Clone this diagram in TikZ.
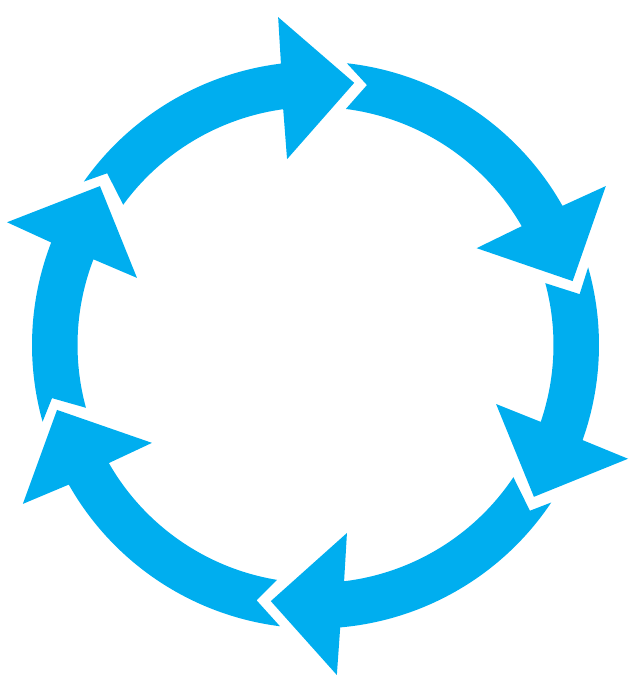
\documentclass[tikz,border=0pt]{standalone}
\definecolor{cyc}{RGB}{0,174,239}
\begin{document}
\begin{tikzpicture}[seg/.style={fill=cyc,draw=none}]
\useasboundingbox (-315.5pt,-337pt) rectangle (316.5pt,345pt);
% A1 top
\fill[seg] (144.8:283.5pt) arc[start angle=144.8, end angle=97.0, radius=283.5pt]
  -- (96.5:330pt) -- (81.6:265pt) -- (98.7:188pt) -- (97.8:238pt)
  arc[start angle=97.8, end angle=143.9, radius=238pt] -- (140.5:270pt) -- cycle;
% A2 right upper
\fill[seg] (83.65:283.5pt) arc[start angle=83.65, end angle=29.4, radius=283.5pt]
  -- (28.7:331pt) -- (13.96:265pt) -- (31.0:188pt) -- (29.95:238pt)
  arc[start angle=29.95, end angle=82.67, radius=238pt] -- (78.8:265pt) -- cycle;
% A3 right lower
\fill[seg] (15.9:283.5pt) arc[start angle=15.9, end angle=-19.6, radius=283.5pt]
  -- (-20.0:332.6pt) -- (-34.8:266pt) -- (-18.1:190pt) -- (-18.85:238pt)
  arc[start angle=-18.85, end angle=15.06, radius=238pt] -- (10.9:269pt) -- cycle;
% A4 bottom
\fill[seg] (-33.75:283.5pt) arc[start angle=-33.75, end angle=-85.0, radius=283.5pt]
  -- (-86.3:330.7pt) -- (-99.9:260pt) -- (-80.5:190.6pt) -- (-83.1:238pt)
  arc[start angle=-83.1, end angle=-33.75, radius=238pt] -- (-37.7:271pt) -- cycle;
% A5 left lower
\fill[seg] (-97.2:283.5pt) arc[start angle=-97.2, end angle=-150.5, radius=283.5pt]
  -- (-151.5:333pt) -- (-165.9:266.5pt) -- (-149.1:190.6pt) -- (-150.26:238pt)
  arc[start angle=-150.26, end angle=-99.3, radius=238pt] -- (-103.0:262pt) -- cycle;
% A6 left upper
\fill[seg] (-164.3:283.5pt) arc[start angle=-164.3, end angle=-201.2, radius=283.5pt]
  -- (-201.7:332pt) -- (-216.4:267.8pt) -- (-200.6:190.7pt) -- (-201.1:238pt)
  arc[start angle=-201.1, end angle=-164.7, radius=238pt] -- (-168.6:268.8pt) -- cycle;
\end{tikzpicture}
\end{document}
